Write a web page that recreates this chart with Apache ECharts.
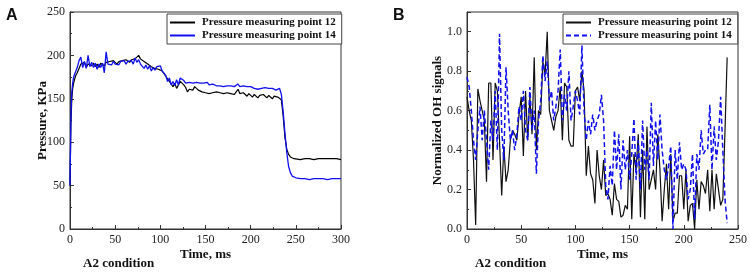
<!DOCTYPE html>
<html>
<head>
<meta charset="utf-8">
<script src="https://cdn.jsdelivr.net/npm/echarts@6/dist/echarts.min.js"></script>
<style>
  html, body { margin: 0; padding: 0; background: #fff; }
  #chart { width: 750px; height: 278px; }
</style>
</head>
<body>
<div id="chart"></div>
<script>
// panel A: pressure, KPa
var timeA = [0,1,2,3,4,5,6,8,10,12,14,16,18,20,22,24,26,28,30,32,34,36,38,40,42,44,46,48,50,52,54,56,58,60,62,64,66,68,70,72,74,76,78,80,82,84,86,88,90,92,94,96,98,100,102,104,106,108,110,112,114,116,118,120,122,124,126,128,130,132,134,136,138,140,142,144,146,148,150,152,154,156,158,160,162,164,166,168,170,172,174,176,178,180,182,184,186,188,190,192,194,196,198,200,202,204,206,208,210,212,214,216,218,220,222,224,226,228,230,232,234,236,238,240,242,244,246,248,250,255,260,265,270,275,280,285,290,295,300];
var press12 = [50,120,150,162,168,172,176,
  180,185,190,188,192,186,190,192,188,191,
  187,190,186,191,189,188,192,190,193,191,
  194,192,190,193,191,194,192,195,193,192,
  195,193,196,194,200,196,197,193,195,190,
  191,187,189,185,187,184,186,182,183,176,
  178,170,172,164,168,162,166,170,168,166,
  163,158,161,163,160,164,162,160,161,158,
  160,157,159,156,158,157,155,158,156,157,
  155,156,154,157,155,156,158,155,157,161,
  156,154,157,155,153,156,154,152,155,153,
  151,154,152,155,153,151,154,152,150,153,
  151,152,150,149,130,105,92,86,83,82,
  81,81,
  80,81,81,80,81,81,81,81,81,80];
var press14 = [50,130,158,168,175,178,180,
  186,194,198,186,193,185,200,187,192,186,
  191,184,190,186,191,180,204,190,192,189,
  193,190,192,189,193,191,194,190,193,191,
  194,190,197,192,195,190,188,185,189,184,
  188,182,186,183,187,185,188,182,180,177,
  170,174,166,170,165,172,166,174,175,171,
  168,166,169,171,168,170,169,171,168,170,
  168,167,169,166,165,167,166,165,167,165,
  166,164,166,165,167,165,166,164,165,167,
  164,163,165,163,164,162,164,163,162,163,
  161,163,162,161,163,161,162,160,162,161,
  160,161,162,155,135,110,88,72,65,61,
  59,59,
  58,58,57,58,58,58,57,58,58,58];

// panel B: normalized OH signals
var timeB = [0,2,4,6,8,10,12,14,16,18,20,22,24,26,28,30,32,34,36,38,40,42,44,46,48,50,52,54,56,58,60,62,64,66,68,70,72,74,76,78,80,82,84,86,88,90,92,94,96,98,100,102,104,106,108,110,112,114,116,118,120,122,124,126,128,130,132,134,136,138,140,142,144,146,148,150,152,154,156,158,160,162,164,166,168,170,172,174,176,178,180,182,184,186,188,190,192,194,196,198,200,202,204,206,208,210,212,214,216,218,220,222,224,226,228,230,232,234,236,238,240];
var oh12 = [0.67,0.60,0.55,0.35,0.02,0.71,0.65,0.60,0.55,0.24,
  0.74,0.74,0.35,0.74,0.70,0.45,0.17,0.42,0.24,0.30,
  0.45,0.50,0.48,0.45,0.58,0.67,0.37,0.70,0.45,0.67,
  0.48,0.87,0.40,0.60,0.58,0.85,0.78,1.00,0.60,0.55,
  0.50,0.57,0.60,0.72,0.45,0.74,0.72,0.45,0.42,0.42,
  0.70,0.72,0.65,0.80,0.70,0.27,0.42,0.28,0.25,0.13,
  0.40,0.27,0.20,0.35,0.17,0.18,0.15,0.07,0.23,0.15,
  0.14,0.06,0.07,0.12,0.10,0.47,0.05,0.38,0.30,0.48,
  0.06,0.40,0.05,0.52,0.20,0.25,0.30,0.20,0.48,0.30,
  0.04,0.20,0.33,0.10,0.38,0.04,0.08,0.08,0.27,0.27,
  0.10,0.30,0.04,0.12,0.13,0.00,0.25,0.10,0.24,0.22,
  0.18,0.30,0.09,0.30,0.10,0.28,0.20,0.12,0.15,0.50,
  0.87];
var oh14 = [0.77,0.72,0.60,0.45,0.35,0.50,0.62,0.45,0.60,0.45,
  0.30,0.55,0.45,0.70,0.40,0.99,0.50,0.35,0.82,0.60,
  0.45,0.50,0.40,0.48,0.62,0.55,0.70,0.50,0.45,0.72,
  0.50,0.60,0.28,0.55,0.65,0.88,0.75,0.85,0.65,0.70,
  0.55,0.62,0.70,0.91,0.55,0.68,0.60,0.80,0.55,0.62,
  0.70,0.65,0.58,0.93,0.60,0.45,0.55,0.48,0.58,0.50,
  0.55,0.58,0.68,0.55,0.22,0.15,0.32,0.22,0.50,0.30,
  0.48,0.20,0.45,0.30,0.40,0.25,0.38,0.56,0.25,0.45,
  0.20,0.55,0.30,0.40,0.25,0.64,0.32,0.55,0.35,0.58,
  0.40,0.30,0.25,0.32,0.42,0.00,0.40,0.25,0.44,0.30,
  0.33,0.30,0.15,0.20,0.38,0.05,0.38,0.30,0.50,0.38,
  0.40,0.40,0.63,0.30,0.52,0.35,0.45,0.67,0.40,0.15,
  0.03];

var name12 = 'Pressure measuring point 12';
var name14 = 'Pressure measuring point 14';

function pairs(xs, ys) {
  var out = [];
  for (var i = 0; i < Math.min(xs.length, ys.length); i++) out.push([xs[i], ys[i]]);
  return out;
}

var serif = 'Liberation Serif';
var axisCommon = {
  axisLine: { show: true, lineStyle: { color: '#333', width: 1 } },
  axisTick: { show: true, inside: true, length: 4, lineStyle: { color: '#333' } },
  minorTick: { show: true, splitNumber: 2, length: 2, lineStyle: { color: '#333' } },
  splitLine: { show: false },
  axisLabel: { color: '#222', fontFamily: serif, fontSize: 12, margin: 5 },
  nameLocation: 'middle',
  nameMoveOverlap: false,
  nameTextStyle: { color: '#111', fontFamily: serif, fontSize: 13, fontWeight: 'bold' }
};
function ax(extra) {
  return echarts.util.merge(echarts.util.clone(axisCommon), extra, true);
}

var legendCommon = {
  orient: 'vertical',
  top: 14,
  padding: [3, 6, 3, 2],
  itemGap: 2,
  itemWidth: 25,
  itemHeight: 12,
  borderColor: '#444',
  borderWidth: 1,
  backgroundColor: '#fff',
  itemStyle: { opacity: 0 },
  formatter: function (n) { return n.trim(); },
  textStyle: { fontFamily: serif, fontSize: 11, fontWeight: 'bold', color: '#111', padding: [0, 0, 0, 2] }
};

var chart = echarts.init(document.getElementById('chart'));
chart.setOption({
  animation: false,
  backgroundColor: '#fff',
  grid: [
    { left: 70, top: 12, width: 271, height: 217, show: true, borderColor: '#333', borderWidth: 1 },
    { left: 467, top: 12, width: 271, height: 217, show: true, borderColor: '#333', borderWidth: 1 }
  ],
  xAxis: [
    ax({ type: 'value', gridIndex: 0, min: 0, max: 300, interval: 50, name: 'Time, ms', nameGap: 19 }),
    ax({ type: 'value', gridIndex: 1, min: 0, max: 250, interval: 50, name: 'Time, ms', nameGap: 19 })
  ],
  yAxis: [
    ax({ type: 'value', gridIndex: 0, min: 0, max: 250, interval: 50, name: 'Pressure, KPa', nameGap: 21 }),
    ax({ type: 'value', gridIndex: 1, min: 0, max: 1.1, interval: 0.2, name: 'Normalized OH signals', nameGap: 23,
      axisLabel: { showMaxLabel: false, formatter: function (v) { return v.toFixed(1); } } })
  ],
  legend: [
    echarts.util.extend({ left: 167, data: [name12, name14] }, legendCommon),
    echarts.util.extend({ left: 563, data: [name12 + ' ', name14 + ' '] }, legendCommon)
  ],
  graphic: [
    { type: 'text', left: 6, top: 8, style: { text: 'A', font: 'bold 16px "Liberation Sans"', fill: '#111' } },
    { type: 'text', left: 393, top: 8, style: { text: 'B', font: 'bold 16px "Liberation Sans"', fill: '#111' } },
    { type: 'text', left: 83, top: 257, style: { text: 'A2 condition', font: 'bold 13px "Liberation Serif"', fill: '#111' } },
    { type: 'text', left: 475, top: 257, style: { text: 'A2 condition', font: 'bold 13px "Liberation Serif"', fill: '#111' } }
  ],
  series: [
    { type: 'line', name: name12, xAxisIndex: 0, yAxisIndex: 0, showSymbol: false, symbol: 'none',
      color: '#000', lineStyle: { width: 1.2, color: '#000' }, data: pairs(timeA, press12) },
    { type: 'line', name: name14, xAxisIndex: 0, yAxisIndex: 0, showSymbol: false, symbol: 'none',
      color: '#1010ee', lineStyle: { width: 1.3, color: '#1010ee' }, data: pairs(timeA, press14) },
    { type: 'line', name: name12 + ' ', xAxisIndex: 1, yAxisIndex: 1, showSymbol: false, symbol: 'none',
      color: '#000', lineStyle: { width: 1.2, color: '#111' }, data: pairs(timeB, oh12) },
    { type: 'line', name: name14 + ' ', xAxisIndex: 1, yAxisIndex: 1, showSymbol: false, symbol: 'none',
      color: '#1010ee', lineStyle: { width: 1.5, color: '#1010ee', type: [5, 3] }, data: pairs(timeB, oh14) }
  ]
});
</script>
</body>
</html>
